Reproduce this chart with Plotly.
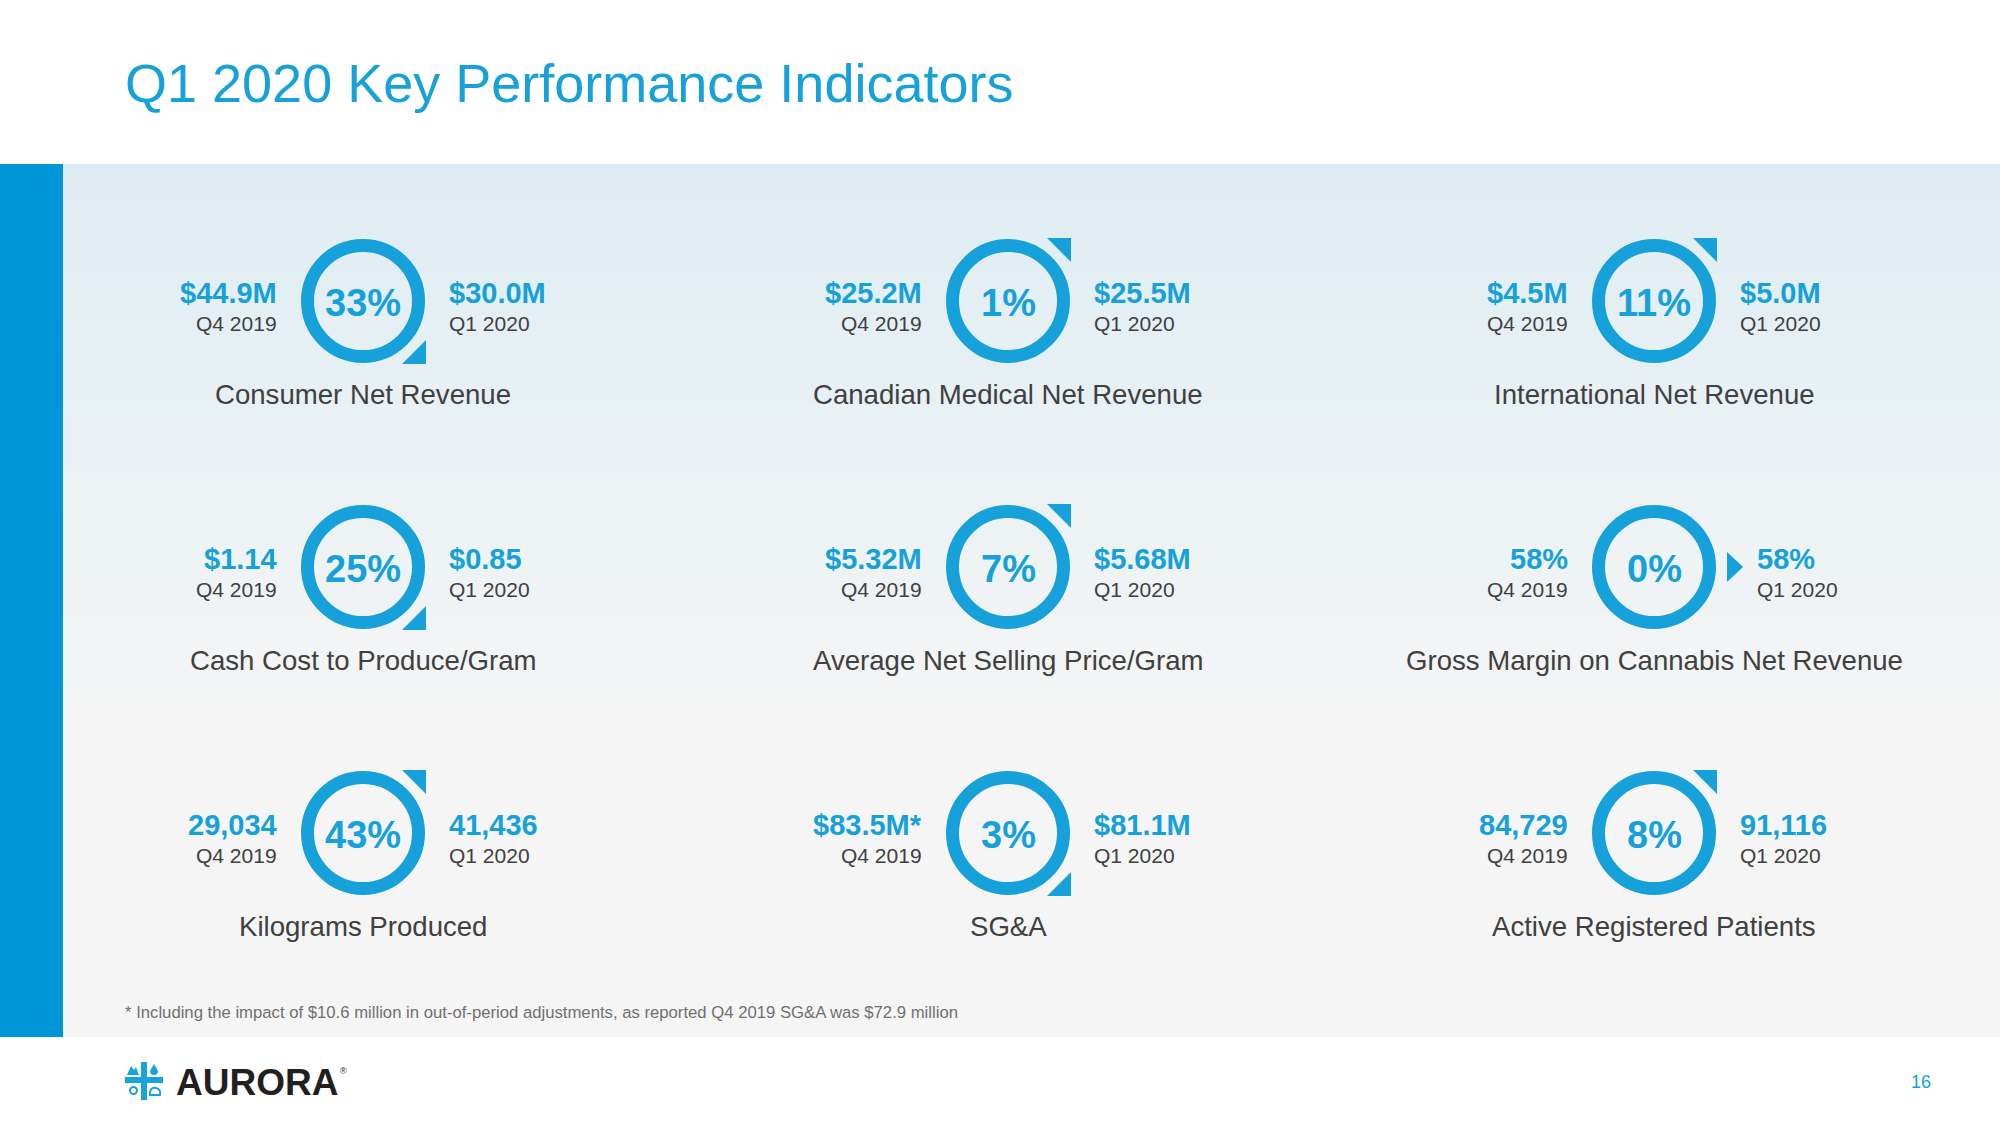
import plotly.graph_objects as go

# ---------------- data ----------------
kpi_names = [
    "Consumer Net Revenue", "Canadian Medical Net Revenue", "International Net Revenue",
    "Cash Cost to Produce/Gram", "Average Net Selling Price/Gram", "Gross Margin on Cannabis Net Revenue",
    "Kilograms Produced", "SG&A", "Active Registered Patients",
]
q4_labels = ["$44.9M", "$25.2M", "$4.5M", "$1.14", "$5.32M", "58%", "29,034", "$83.5M*", "84,729"]
q1_labels = ["$30.0M", "$25.5M", "$5.0M", "$0.85", "$5.68M", "58%", "41,436", "$81.1M", "91,116"]
pct_change = [-33, 1, 11, -25, 7, 0, 43, -3, 8]
period_labels = ["Q4 2019", "Q1 2020"]

title_text = "Q1 2020 Key Performance Indicators"
footnote_text = ("* Including the impact of $10.6 million in out-of-period adjustments, "
                 "as reported Q4 2019 SG&A was $72.9 million")
page_number = "16"
brand = "AURORA"

# ---------------- style / layout ----------------
W, H = 2000, 1125
BLUE = "#16A1DB"
BAR_BLUE = "#0096D8"
GRAY = "#404040"
FONT = "Arial, Liberation Sans, sans-serif"

col_x = [363, 1008, 1654]
row_y = [301, 567, 833]
R_OUT = 62
RING_W = 13
TRI = 24

fig = go.Figure()
fig.add_trace(go.Scatter(x=[0, W], y=[0, H], mode="markers", marker=dict(opacity=0),
                         hoverinfo="skip", showlegend=False))

shapes = []
annotations = []

# panel gradient background
PANEL_TOP, PANEL_BOT = 164, 1037
top_c = (222, 237, 243)
bot_c = (245, 245, 245)
GRAD_END = 720
N = 80
for i in range(N):
    y0 = PANEL_TOP + i * (PANEL_BOT - PANEL_TOP) / N
    y1 = PANEL_TOP + (i + 1) * (PANEL_BOT - PANEL_TOP) / N + 0.8
    t = min(1.0, max(0.0, ((y0 + y1) / 2 - PANEL_TOP) / (GRAD_END - PANEL_TOP)))
    c = tuple(round(top_c[k] + (bot_c[k] - top_c[k]) * t) for k in range(3))
    shapes.append(dict(type="rect", xref="x", yref="y", x0=63, x1=W, y0=y0, y1=min(y1, PANEL_BOT),
                       fillcolor="rgb(%d,%d,%d)" % c, line=dict(width=0), layer="below"))
# left blue bar
shapes.append(dict(type="rect", xref="x", yref="y", x0=0, x1=63, y0=PANEL_TOP, y1=PANEL_BOT,
                   fillcolor=BAR_BLUE, line=dict(width=0), layer="below"))

# KPI tiles
for i, name in enumerate(kpi_names):
    cx = col_x[i % 3]
    cy = row_y[i // 3]
    r = R_OUT - RING_W / 2
    shapes.append(dict(type="circle", xref="x", yref="y", x0=cx - r, x1=cx + r, y0=cy - r, y1=cy + r,
                       line=dict(color=BLUE, width=RING_W), fillcolor="rgba(0,0,0,0)"))
    p = pct_change[i]
    right_off = 84
    if p > 0:
        ax, ay = cx + R_OUT + 1, cy - R_OUT - 1
        path = f"M {ax} {ay} L {ax - TRI} {ay} L {ax} {ay + TRI} Z"
    elif p < 0:
        ax, ay = cx + R_OUT + 1, cy + R_OUT + 1
        path = f"M {ax} {ay} L {ax - TRI} {ay} L {ax} {ay - TRI} Z"
    else:
        path = f"M {cx + 73} {cy - 15} L {cx + 89} {cy} L {cx + 73} {cy + 15} Z"
        right_off = 101
    shapes.append(dict(type="path", xref="x", yref="y", path=path, fillcolor=BLUE, line=dict(width=0)))

    # percent in circle
    annotations.append(dict(x=cx, y=cy + 2, xref="x", yref="y", text=f"<b>{abs(p)}%</b>",
                            showarrow=False, xanchor="center", yanchor="middle",
                            font=dict(family=FONT, size=38, color=BLUE)))
    # left values
    annotations.append(dict(x=cx - 84, y=cy - 8, xref="x", yref="y", text=f"<b>{q4_labels[i]}</b>",
                            showarrow=False, xanchor="right", yanchor="middle",
                            font=dict(family=FONT, size=29, color=BLUE)))
    annotations.append(dict(x=cx - 84, y=cy + 22, xref="x", yref="y", text=period_labels[0],
                            showarrow=False, xanchor="right", yanchor="middle",
                            font=dict(family=FONT, size=21, color=GRAY)))
    # right values
    annotations.append(dict(x=cx + right_off, y=cy - 8, xref="x", yref="y", text=f"<b>{q1_labels[i]}</b>",
                            showarrow=False, xanchor="left", yanchor="middle",
                            font=dict(family=FONT, size=29, color=BLUE)))
    annotations.append(dict(x=cx + right_off, y=cy + 22, xref="x", yref="y", text=period_labels[1],
                            showarrow=False, xanchor="left", yanchor="middle",
                            font=dict(family=FONT, size=21, color=GRAY)))
    # label
    annotations.append(dict(x=cx, y=cy + 93, xref="x", yref="y", text=name,
                            showarrow=False, xanchor="center", yanchor="middle",
                            font=dict(family=FONT, size=27.6, color=GRAY)))

# title
annotations.append(dict(x=123, y=83, xref="x", yref="y", text=title_text, showarrow=False,
                        xanchor="left", yanchor="middle", font=dict(family=FONT, size=54, color=BLUE)))
# footnote
annotations.append(dict(x=123, y=1012, xref="x", yref="y", text=footnote_text, showarrow=False,
                        xanchor="left", yanchor="middle", font=dict(family=FONT, size=16.7, color="#707070")))
# page number
annotations.append(dict(x=1921, y=1082, xref="x", yref="y", text=page_number, showarrow=False,
                        xanchor="center", yanchor="middle", font=dict(family=FONT, size=18, color=BLUE)))

# logo icon
LOGO_BLUE = "#19A3DD"
shapes.append(dict(type="rect", xref="x", yref="y", x0=141, x1=147, y0=1062, y1=1100,
                   fillcolor=LOGO_BLUE, line=dict(width=0)))
shapes.append(dict(type="rect", xref="x", yref="y", x0=125, x1=163, y0=1077, y1=1083,
                   fillcolor=LOGO_BLUE, line=dict(width=0)))
shapes.append(dict(type="path", xref="x", yref="y", path="M 127 1075 L 131 1066 L 134 1070 L 136 1067 L 139 1075 Z",
                   fillcolor=LOGO_BLUE, line=dict(width=0)))
shapes.append(dict(type="path", xref="x", yref="y", path="M 154 1064 L 158 1071 Q 158 1075 154 1075 Q 150 1075 150 1071 Z",
                   fillcolor=LOGO_BLUE, line=dict(width=0)))
shapes.append(dict(type="circle", xref="x", yref="y", x0=130, x1=137, y0=1087, y1=1094,
                   fillcolor="rgba(0,0,0,0)", line=dict(color=LOGO_BLUE, width=2)))
shapes.append(dict(type="path", xref="x", yref="y", path="M 150 1095 L 160 1095 Q 161 1089 156 1088 Q 151 1087 150 1092 Z",
                   fillcolor="rgba(0,0,0,0)", line=dict(color=LOGO_BLUE, width=2)))
annotations.append(dict(x=174, y=1082, xref="x", yref="y", text=f"<b>{brand}</b>", showarrow=False,
                        xanchor="left", yanchor="middle",
                        font=dict(family="Arial Black, Liberation Sans, sans-serif", size=37, color="#231F20")))
annotations.append(dict(x=338, y=1071, xref="x", yref="y", text="®", showarrow=False,
                        xanchor="left", yanchor="middle", font=dict(family=FONT, size=9, color="#231F20")))

fig.update_layout(
    width=W, height=H, margin=dict(l=0, r=0, t=0, b=0),
    paper_bgcolor="white", plot_bgcolor="white",
    xaxis=dict(range=[0, W], visible=False, fixedrange=True),
    yaxis=dict(range=[H, 0], visible=False, fixedrange=True),
    showlegend=False, shapes=shapes, annotations=annotations,
)

fig.write_html("out.html", config={"displayModeBar": False},
               post_script="document.body.style.margin='0';document.body.style.overflow='hidden';")
